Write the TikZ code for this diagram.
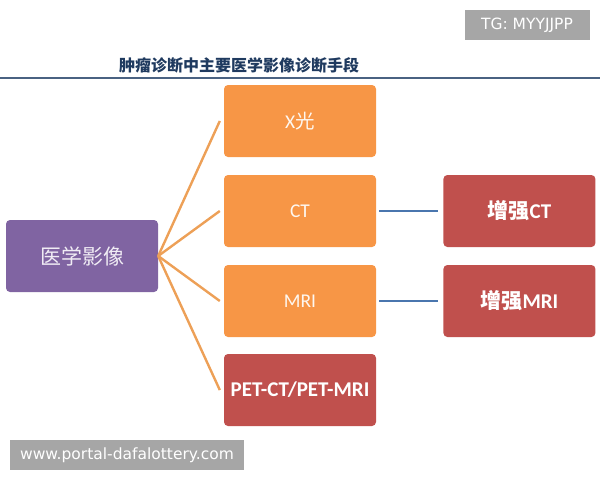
\documentclass[tikz,border=0pt]{standalone}
\usepackage{fontspec}
\setmainfont{Carlito}
\newfontfamily\cjk{Noto Sans CJK SC}
\newfontfamily\wmfont{DejaVu Sans}
\usepackage{xcolor}
\usepackage{tikz}
\usetikzlibrary{positioning}

\definecolor{boxorange}{HTML}{F79646}
\definecolor{boxred}{HTML}{C0504D}
\definecolor{boxpurple}{HTML}{8064A2}
\definecolor{linkblue}{HTML}{4A76AE}
\definecolor{fanorange}{HTML}{EDA057}
\definecolor{titlenavy}{HTML}{1F3A5F}
\definecolor{rulegray}{HTML}{4A6282}
\definecolor{wmgray}{HTML}{A6A6A6}

\begin{document}
\begin{tikzpicture}[x=1pt, y=-1pt,
    card/.style={rectangle, rounded corners=4pt, minimum width=152pt, minimum height=72pt,
                 text=white, inner sep=0pt},
    orangecard/.style={card, fill=boxorange, text=white!92!boxorange, font=\fontsize{19.5}{22}\selectfont},
    redcard/.style={card, fill=boxred, font=\fontsize{21}{23}\selectfont\bfseries},
    fanline/.style={fanorange, line width=2.4pt},
    linkline/.style={linkblue, line width=2.6pt},
    wmbox/.style={fill=wmgray, text=white, inner sep=0pt, font=\wmfont\fontsize{15.5}{17}\selectfont}]
    \useasboundingbox (0,0) rectangle (600,480);

    % Titel und Trennlinie
    \node[text=titlenavy, font=\cjk\bfseries\fontsize{16}{18}\selectfont] (title) at (239,65) {肿瘤诊断中主要医学影像诊断手段};
    \coordinate (ruleL) at (0,78);
    \coordinate (ruleR) at (600,78);
    \draw[rulegray, line width=2pt] (ruleL) -- (ruleR);

    % Wurzel
    \node[card, fill=boxpurple, text=white!88!boxpurple, font=\cjk\fontsize{21}{23}\selectfont] (root) at (82,256) {医学影像};

    % mittlere Spalte
    \node[orangecard] (xray) at (300,121) {X{\cjk 光}};
    \node[orangecard] (ct) at (300,211) {CT};
    \node[orangecard] (mri) at (300,301) {MRI};
    \node[redcard] (pet) at (300,390) {PET-CT/PET-MRI};

    % rechte Spalte
    \node[redcard, right=67pt of ct] (ctplus) {{\cjk 增强}CT};
    \node[redcard, right=67pt of mri] (mriplus) {{\cjk 增强}MRI};

    % Verbindungen
    \foreach \n in {xray, ct, mri, pet}
        \draw[fanline] (root.east) -- ([xshift=-4pt]\n.west);
    \draw[linkline] ([xshift=3pt]ct.east) -- ([xshift=-5pt]ctplus.west);
    \draw[linkline] ([xshift=3pt]mri.east) -- ([xshift=-5pt]mriplus.west);

    % Wasserzeichen
    \node[wmbox, minimum width=125pt, minimum height=30pt] (tg) at (527,25) {TG: MYYJJPP};
    \node[wmbox, minimum width=234pt, minimum height=30pt] (site) at (127,455) {www.portal-dafalottery.com};
\end{tikzpicture}
\end{document}
